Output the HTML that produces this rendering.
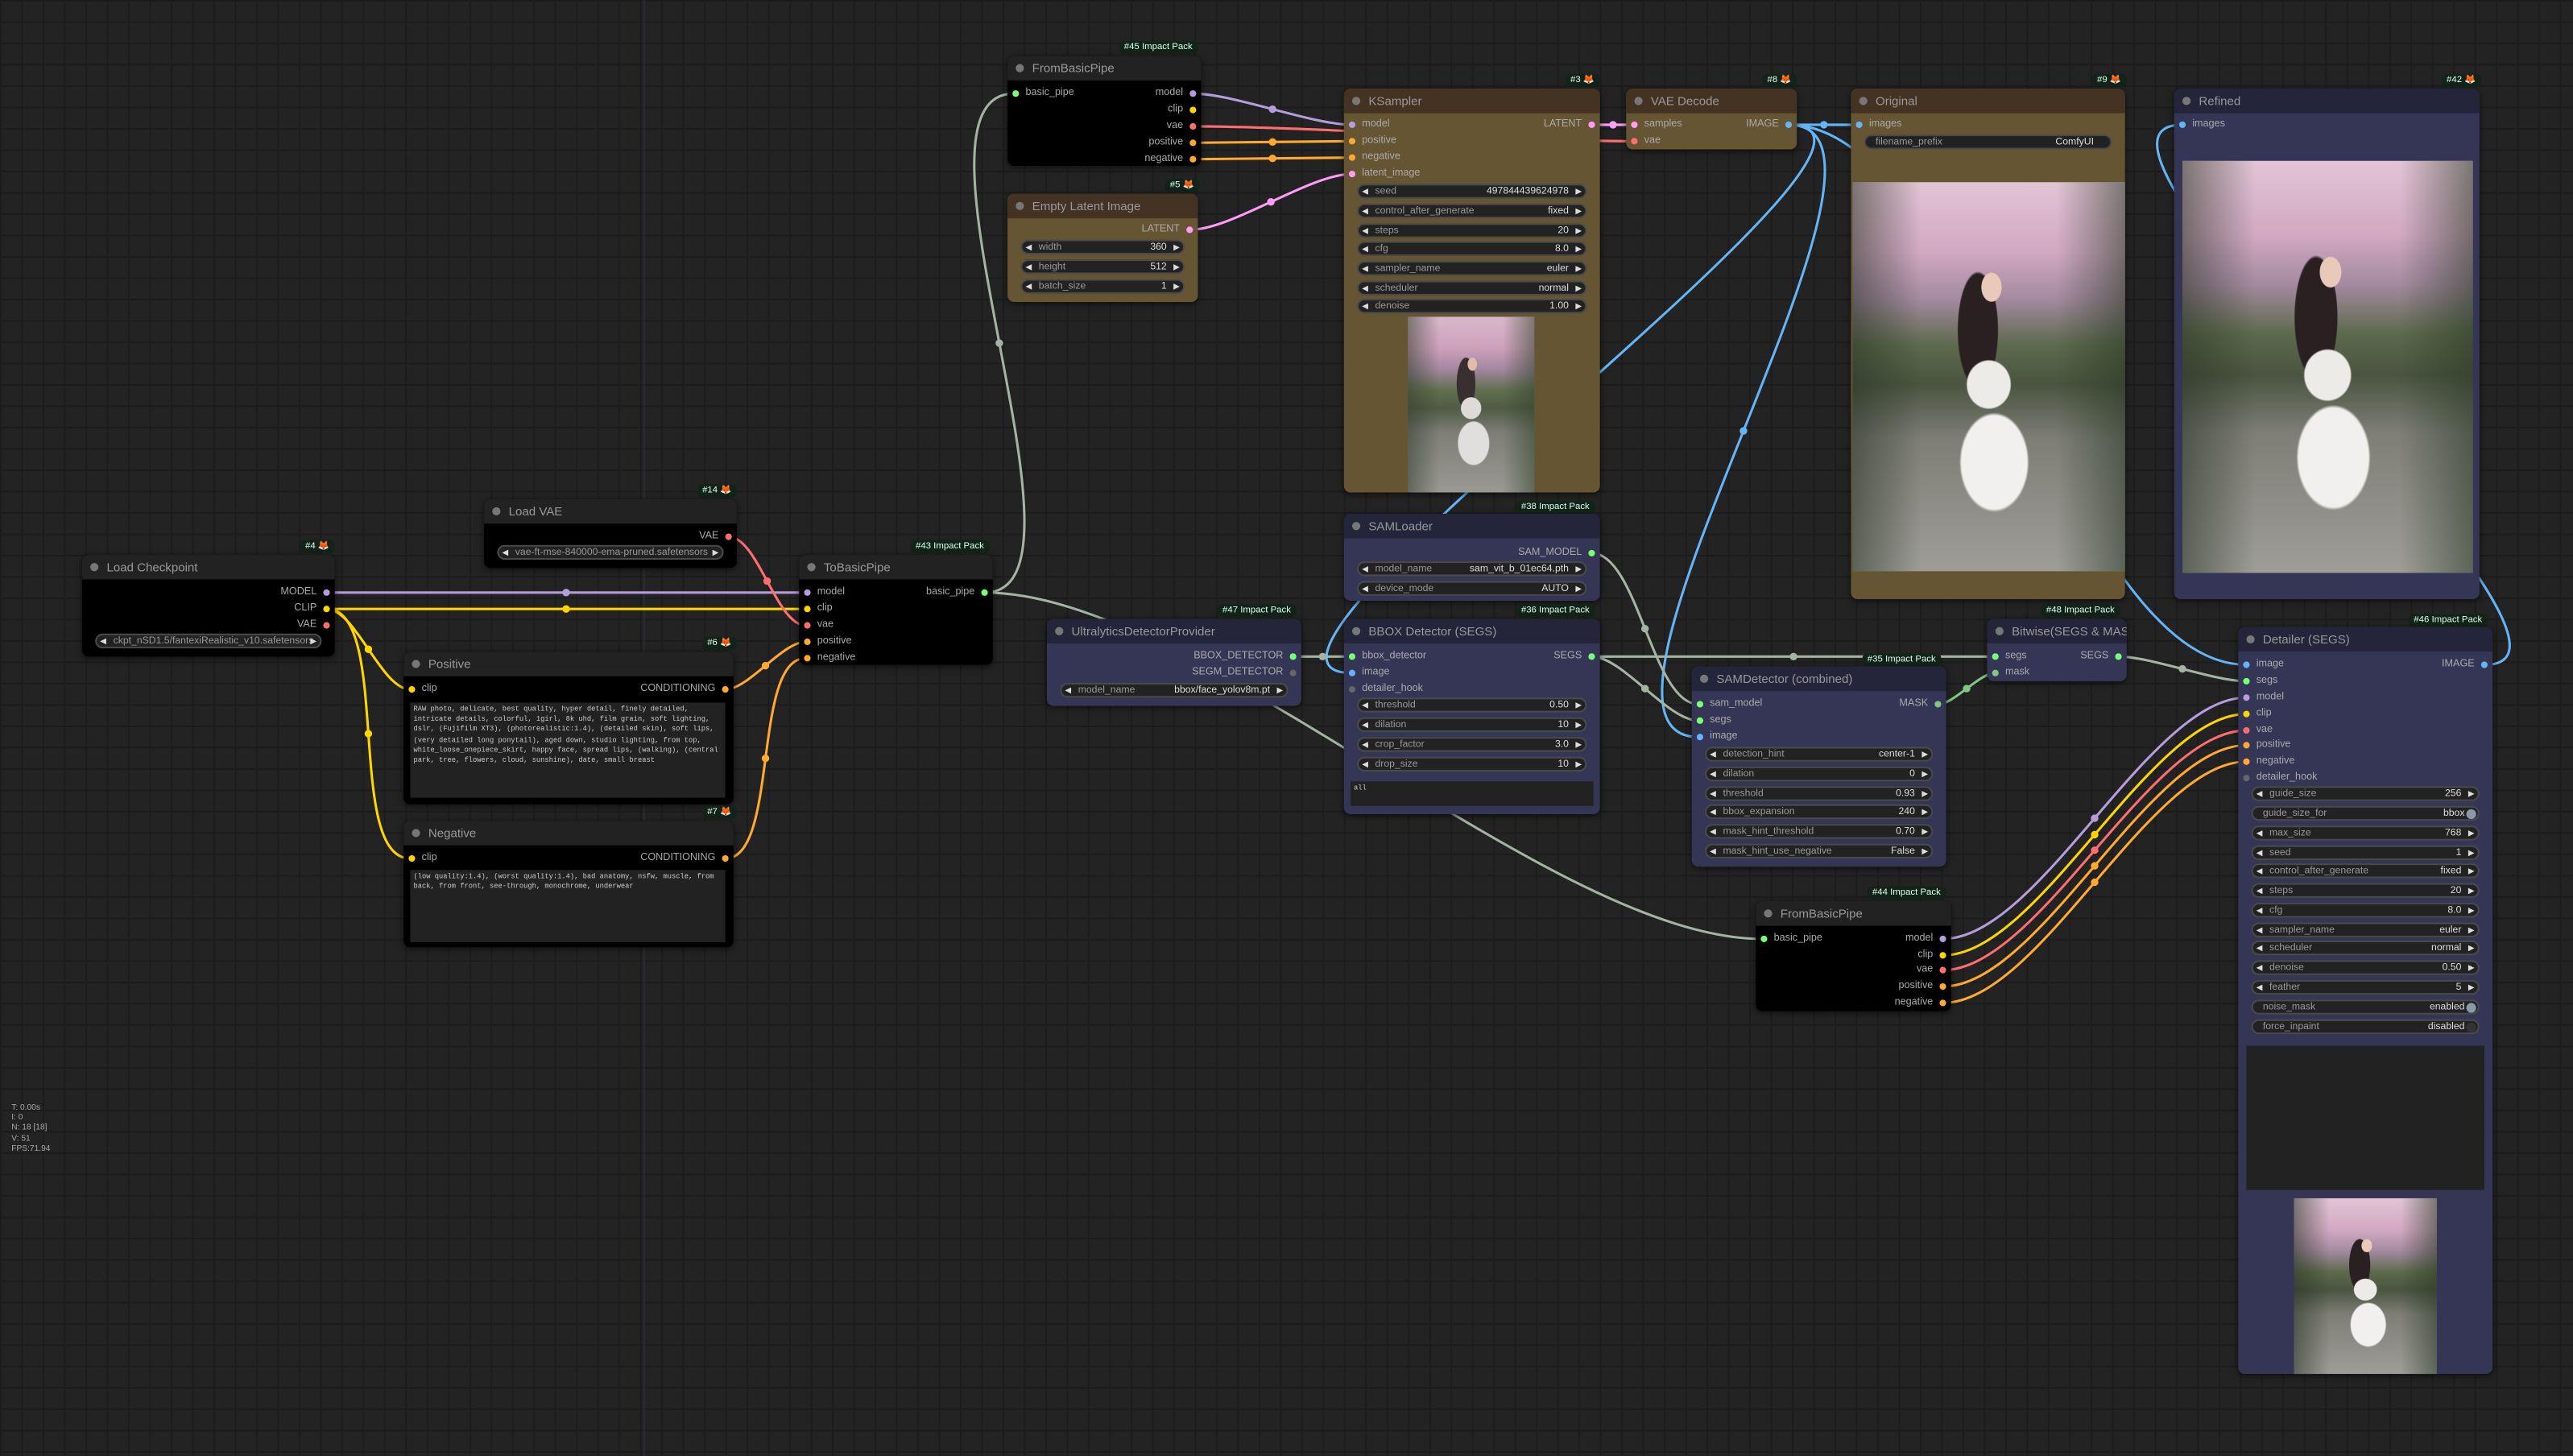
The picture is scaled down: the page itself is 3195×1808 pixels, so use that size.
<!DOCTYPE html>
<html><head><meta charset="utf-8">
<style>
html,body{margin:0;padding:0;background:#222;}
body{width:3195px;height:1808px;overflow:hidden;position:relative;}
#s{position:absolute;left:0;top:0;width:1568px;height:887px;transform:scale(2.0376,2.0383);transform-origin:0 0;
background-color:#232323;
background-image:linear-gradient(#1c1c1c 1px,transparent 1px),linear-gradient(90deg,#1c1c1c 1px,transparent 1px);
background-size:13px 13px;font-family:"Liberation Sans",sans-serif;}
svg{position:absolute;left:0;top:0}
.n{position:absolute;border-radius:4px;box-shadow:0 1px 4px rgba(0,0,0,.6);}
.t{height:15px;line-height:15px;font-size:7.4px;color:#999;padding-left:15px;border-radius:4px 4px 0 0;position:relative;white-space:nowrap;overflow:hidden}
.t:before{content:"";position:absolute;left:5px;top:5px;width:5px;height:5px;border-radius:50%;background:#777}
.K{background:#000}.K .t{background:#222}
.B{background:#353556}.B .t{background:#24243a}
.Y{background:#665533}.Y .t{background:#443322}
.r{position:absolute;left:0;right:0;height:8px;line-height:8px;font-size:6.2px;color:#aaa;margin-top:1px}
.r .l{position:absolute;left:11px}.r .o{position:absolute;right:11px}
.r i{position:absolute;top:2px;width:4px;height:4px;border-radius:50%}
.r .l i{left:-8px}.r .o i{right:-8px}
.w{position:absolute;left:8px;right:8px;height:9px;background:#222;border:1px solid #4a4a4a;border-radius:5px;font-size:6px;line-height:8px;color:#999;box-sizing:border-box;white-space:nowrap;overflow:hidden;margin-top:1px}
.w .k{position:absolute;left:10px}.w .v{position:absolute;right:10px;color:#ddd}
.w b{position:absolute;left:2px;font-size:5px;color:#ddd;font-weight:normal}
.w b.rt{left:auto;right:2px}
.w.tg .k{left:6px}.w.tg .v{right:8px}
.w.tg:after{content:"";position:absolute;right:1px;top:1px;width:6px;height:6px;border-radius:50%;background:#8899aa}
.w.tg.off:after{background:#333}
.w.tx:after{display:none}
.bd{position:absolute;height:8px;line-height:8px;font-size:5.6px;color:#dfe;background:#12241a;padding:0 3px;border-radius:3px;white-space:nowrap}
.ta{position:absolute;background:#222;font-family:"Liberation Mono",monospace;font-size:4.3px;line-height:6.2px;color:#ccc;padding:2px;box-sizing:border-box;overflow:hidden}
.ph{position:absolute;background:
radial-gradient(ellipse 20% 20% at 52% 72%,#f2f0ee 60%,transparent 64%),
radial-gradient(ellipse 13% 10% at 50% 52%,#ecebe8 60%,transparent 64%),
radial-gradient(ellipse 6% 6% at 51% 27%,#e9c9b8 60%,transparent 64%),
radial-gradient(ellipse 12% 24% at 46% 38%,#2a2022 60%,transparent 63%),
linear-gradient(90deg,rgba(40,50,35,.55) 0%,transparent 25%,transparent 75%,rgba(40,55,35,.55) 100%),
linear-gradient(#e2c4d4 0%,#d1a9c2 18%,#a48aa0 30%,#5c6a4c 42%,#4a5440 52%,#7e7e76 66%,#9e9d98 100%);}
.st{position:absolute;left:7px;top:672px;font-size:5px;line-height:6.2px;color:#aaa}
</style></head><body>
<div id="s">
<div style="position:absolute;left:392px;top:0;width:1px;height:887px;background:#2a2d33"></div>
<svg id="lk" width="1568" height="887"></svg>

<div class="bd" style="left:183px;top:329px">#4 🦊</div>
<div class="n K" style="left:50px;top:338px;width:154px;height:62px"><div class="t">Load Checkpoint</div>
<div class="r" style="top:18px"><span class="o">MODEL<i style="background:#b39ddb"></i></span></div>
<div class="r" style="top:28px"><span class="o">CLIP<i style="background:#ffd500"></i></span></div>
<div class="r" style="top:38px"><span class="o">VAE<i style="background:#ff6e6e"></i></span></div>
<div class="w" style="top:47px"><b>◀</b><span class="k">ckpt_nSD1.5/fantexiRealistic_v10.safetensors</span><b class="rt">▶</b></div>
</div>

<div class="bd" style="left:425px;top:295px">#14 🦊</div>
<div class="n K" style="left:295px;top:304px;width:154px;height:42px"><div class="t">Load VAE</div>
<div class="r" style="top:18px"><span class="o">VAE<i style="background:#ff6e6e"></i></span></div>
<div class="w" style="top:27px"><b>◀</b><span class="k">vae-ft-mse-840000-ema-pruned.safetensors</span><b class="rt">▶</b></div>
</div>

<div class="bd" style="left:428px;top:388px">#6 🦊</div>
<div class="n K" style="left:246px;top:397px;width:201px;height:93px"><div class="t">Positive</div>
<div class="r" style="top:18px"><span class="l"><i style="background:#ffd500"></i>clip</span><span class="o">CONDITIONING<i style="background:#ffa931"></i></span></div>
<div class="ta" style="left:4px;top:31px;width:192px;height:58px">RAW photo, delicate, best quality, hyper detail, finely detailed, intricate details, colorful, 1girl, 8k uhd, film grain, soft lighting, dslr, (Fujifilm XT3), (photorealistic:1.4), (detailed skin), soft lips, (very detailed long ponytail), aged down, studio lighting, from top, white_loose_onepiece_skirt, happy face, spread lips, (walking), (central park, tree, flowers, cloud, sunshine), date, small breast</div>
</div>

<div class="bd" style="left:428px;top:491px">#7 🦊</div>
<div class="n K" style="left:246px;top:500px;width:201px;height:77px"><div class="t">Negative</div>
<div class="r" style="top:18px"><span class="l"><i style="background:#ffd500"></i>clip</span><span class="o">CONDITIONING<i style="background:#ffa931"></i></span></div>
<div class="ta" style="left:4px;top:30px;width:192px;height:44px">(low quality:1.4), (worst quality:1.4), bad anatomy, nsfw, muscle, from back, from front, see-through, monochrome, underwear</div>
</div>

<div class="bd" style="left:555px;top:329px">#43 Impact Pack</div>
<div class="n K" style="left:487px;top:338px;width:118px;height:67px"><div class="t">ToBasicPipe</div>
<div class="r" style="top:18px"><span class="l"><i style="background:#b39ddb"></i>model</span><span class="o">basic_pipe<i style="background:#7f7"></i></span></div>
<div class="r" style="top:28px"><span class="l"><i style="background:#ffd500"></i>clip</span></div>
<div class="r" style="top:38px"><span class="l"><i style="background:#ff6e6e"></i>vae</span></div>
<div class="r" style="top:48px"><span class="l"><i style="background:#ffa931"></i>positive</span></div>
<div class="r" style="top:58px"><span class="l"><i style="background:#ffa931"></i>negative</span></div>
</div>

<div class="bd" style="left:682px;top:25px">#45 Impact Pack</div>
<div class="n K" style="left:614px;top:34px;width:118px;height:67px"><div class="t">FromBasicPipe</div>
<div class="r" style="top:18px"><span class="l"><i style="background:#7f7"></i>basic_pipe</span><span class="o">model<i style="background:#b39ddb"></i></span></div>
<div class="r" style="top:28px"><span class="o">clip<i style="background:#ffd500"></i></span></div>
<div class="r" style="top:38px"><span class="o">vae<i style="background:#ff6e6e"></i></span></div>
<div class="r" style="top:48px"><span class="o">positive<i style="background:#ffa931"></i></span></div>
<div class="r" style="top:58px"><span class="o">negative<i style="background:#ffa931"></i></span></div>
</div>

<div class="bd" style="left:710px;top:109px">#5 🦊</div>
<div class="n Y" style="left:614px;top:118px;width:116px;height:66px"><div class="t">Empty Latent Image</div>
<div class="r" style="top:17px"><span class="o">LATENT<i style="background:#ff9cf9"></i></span></div>
<div class="w" style="top:27px"><b>◀</b><span class="k">width</span><span class="v">360</span><b class="rt">▶</b></div>
<div class="w" style="top:39px"><b>◀</b><span class="k">height</span><span class="v">512</span><b class="rt">▶</b></div>
<div class="w" style="top:51px"><b>◀</b><span class="k">batch_size</span><span class="v">1</span><b class="rt">▶</b></div>
</div>

<div class="bd" style="left:954px;top:45px">#3 🦊</div>
<div class="n Y" style="left:819px;top:54px;width:156px;height:246px"><div class="t">KSampler</div>
<div class="r" style="top:17px"><span class="l"><i style="background:#b39ddb"></i>model</span><span class="o">LATENT<i style="background:#ff9cf9"></i></span></div>
<div class="r" style="top:27px"><span class="l"><i style="background:#ffa931"></i>positive</span></div>
<div class="r" style="top:37px"><span class="l"><i style="background:#ffa931"></i>negative</span></div>
<div class="r" style="top:47px"><span class="l"><i style="background:#ff9cf9"></i>latent_image</span></div>
<div class="w" style="top:57px"><b>◀</b><span class="k">seed</span><span class="v">497844439624978</span><b class="rt">▶</b></div>
<div class="w" style="top:69px"><b>◀</b><span class="k">control_after_generate</span><span class="v">fixed</span><b class="rt">▶</b></div>
<div class="w" style="top:81px"><b>◀</b><span class="k">steps</span><span class="v">20</span><b class="rt">▶</b></div>
<div class="w" style="top:92px"><b>◀</b><span class="k">cfg</span><span class="v">8.0</span><b class="rt">▶</b></div>
<div class="w" style="top:104px"><b>◀</b><span class="k">sampler_name</span><span class="v">euler</span><b class="rt">▶</b></div>
<div class="w" style="top:116px"><b>◀</b><span class="k">scheduler</span><span class="v">normal</span><b class="rt">▶</b></div>
<div class="w" style="top:127px"><b>◀</b><span class="k">denoise</span><span class="v">1.00</span><b class="rt">▶</b></div>
<div class="ph" style="left:39px;top:139px;width:77px;height:107px;filter:saturate(1.3) contrast(0.85)"></div>
</div>

<div class="bd" style="left:1074px;top:45px">#8 🦊</div>
<div class="n Y" style="left:991px;top:54px;width:104px;height:37px"><div class="t">VAE Decode</div>
<div class="r" style="top:17px"><span class="l"><i style="background:#ff9cf9"></i>samples</span><span class="o">IMAGE<i style="background:#64b5f6"></i></span></div>
<div class="r" style="top:27px"><span class="l"><i style="background:#ff6e6e"></i>vae</span></div>
</div>

<div class="bd" style="left:1275px;top:45px">#9 🦊</div>
<div class="n Y" style="left:1128px;top:54px;width:167px;height:311px"><div class="t">Original</div>
<div class="r" style="top:17px"><span class="l"><i style="background:#64b5f6"></i>images</span></div>
<div class="w tg tx" style="top:27px"><span class="k">filename_prefix</span><span class="v" style="right:10px">ComfyUI</span></div>
<div class="ph" style="left:1px;top:57px;width:166px;height:237px"></div>
</div>

<div class="bd" style="left:1488px;top:45px">#42 🦊</div>
<div class="n B" style="left:1325px;top:54px;width:186px;height:311px"><div class="t">Refined</div>
<div class="r" style="top:17px"><span class="l"><i style="background:#64b5f6"></i>images</span></div>
<div class="ph" style="left:5px;top:44px;width:177px;height:251px"></div>
</div>

<div class="bd" style="left:924px;top:305px">#38 Impact Pack</div>
<div class="n B" style="left:819px;top:313px;width:156px;height:53px"><div class="t">SAMLoader</div>
<div class="r" style="top:19px"><span class="o">SAM_MODEL<i style="background:#7f7"></i></span></div>
<div class="w" style="top:28px"><b>◀</b><span class="k">model_name</span><span class="v">sam_vit_b_01ec64.pth</span><b class="rt">▶</b></div>
<div class="w" style="top:40px"><b>◀</b><span class="k">device_mode</span><span class="v">AUTO</span><b class="rt">▶</b></div>
</div>

<div class="bd" style="left:742px;top:368px">#47 Impact Pack</div>
<div class="n B" style="left:638px;top:377px;width:155px;height:53px"><div class="t">UltralyticsDetectorProvider</div>
<div class="r" style="top:18px"><span class="o">BBOX_DETECTOR<i style="background:#7f7"></i></span></div>
<div class="r" style="top:28px"><span class="o">SEGM_DETECTOR<i style="background:#666"></i></span></div>
<div class="w" style="top:38px"><b>◀</b><span class="k">model_name</span><span class="v">bbox/face_yolov8m.pt</span><b class="rt">▶</b></div>
</div>

<div class="bd" style="left:924px;top:368px">#36 Impact Pack</div>
<div class="n B" style="left:819px;top:377px;width:156px;height:119px"><div class="t">BBOX Detector (SEGS)</div>
<div class="r" style="top:18px"><span class="l"><i style="background:#7f7"></i>bbox_detector</span><span class="o">SEGS<i style="background:#7f7"></i></span></div>
<div class="r" style="top:28px"><span class="l"><i style="background:#64b5f6"></i>image</span></div>
<div class="r" style="top:38px"><span class="l"><i style="background:#666"></i>detailer_hook</span></div>
<div class="w" style="top:47px"><b>◀</b><span class="k">threshold</span><span class="v">0.50</span><b class="rt">▶</b></div>
<div class="w" style="top:59px"><b>◀</b><span class="k">dilation</span><span class="v">10</span><b class="rt">▶</b></div>
<div class="w" style="top:71px"><b>◀</b><span class="k">crop_factor</span><span class="v">3.0</span><b class="rt">▶</b></div>
<div class="w" style="top:83px"><b>◀</b><span class="k">drop_size</span><span class="v">10</span><b class="rt">▶</b></div>
<div class="ta" style="left:4px;top:99px;width:148px;height:15px">all</div>
</div>

<div class="bd" style="left:1135px;top:398px">#35 Impact Pack</div>
<div class="n B" style="left:1031px;top:406px;width:155px;height:122px"><div class="t">SAMDetector (combined)</div>
<div class="r" style="top:18px"><span class="l"><i style="background:#7f7"></i>sam_model</span><span class="o">MASK<i style="background:#81c784"></i></span></div>
<div class="r" style="top:28px"><span class="l"><i style="background:#7f7"></i>segs</span></div>
<div class="r" style="top:38px"><span class="l"><i style="background:#64b5f6"></i>image</span></div>
<div class="w" style="top:48px"><b>◀</b><span class="k">detection_hint</span><span class="v">center-1</span><b class="rt">▶</b></div>
<div class="w" style="top:60px"><b>◀</b><span class="k">dilation</span><span class="v">0</span><b class="rt">▶</b></div>
<div class="w" style="top:72px"><b>◀</b><span class="k">threshold</span><span class="v">0.93</span><b class="rt">▶</b></div>
<div class="w" style="top:83px"><b>◀</b><span class="k">bbox_expansion</span><span class="v">240</span><b class="rt">▶</b></div>
<div class="w" style="top:95px"><b>◀</b><span class="k">mask_hint_threshold</span><span class="v">0.70</span><b class="rt">▶</b></div>
<div class="w" style="top:107px"><b>◀</b><span class="k">mask_hint_use_negative</span><span class="v">False</span><b class="rt">▶</b></div>
</div>

<div class="bd" style="left:1244px;top:368px">#48 Impact Pack</div>
<div class="n B" style="left:1211px;top:377px;width:85px;height:38px"><div class="t">Bitwise(SEGS &amp; MASK)</div>
<div class="r" style="top:18px"><span class="l"><i style="background:#7f7"></i>segs</span><span class="o">SEGS<i style="background:#7f7"></i></span></div>
<div class="r" style="top:28px"><span class="l"><i style="background:#81c784"></i>mask</span></div>
</div>

<div class="bd" style="left:1468px;top:374px">#46 Impact Pack</div>
<div class="n B" style="left:1364px;top:382px;width:155px;height:455px"><div class="t">Detailer (SEGS)</div>
<div class="r" style="top:18px"><span class="l"><i style="background:#64b5f6"></i>image</span><span class="o">IMAGE<i style="background:#64b5f6"></i></span></div>
<div class="r" style="top:28px"><span class="l"><i style="background:#7f7"></i>segs</span></div>
<div class="r" style="top:38px"><span class="l"><i style="background:#b39ddb"></i>model</span></div>
<div class="r" style="top:48px"><span class="l"><i style="background:#ffd500"></i>clip</span></div>
<div class="r" style="top:58px"><span class="l"><i style="background:#ff6e6e"></i>vae</span></div>
<div class="r" style="top:67px"><span class="l"><i style="background:#ffa931"></i>positive</span></div>
<div class="r" style="top:77px"><span class="l"><i style="background:#ffa931"></i>negative</span></div>
<div class="r" style="top:87px"><span class="l"><i style="background:#666"></i>detailer_hook</span></div>
<div class="w" style="top:96px"><b>◀</b><span class="k">guide_size</span><span class="v">256</span><b class="rt">▶</b></div>
<div class="w tg" style="top:108px"><span class="k">guide_size_for</span><span class="v">bbox</span></div>
<div class="w" style="top:120px"><b>◀</b><span class="k">max_size</span><span class="v">768</span><b class="rt">▶</b></div>
<div class="w" style="top:132px"><b>◀</b><span class="k">seed</span><span class="v">1</span><b class="rt">▶</b></div>
<div class="w" style="top:143px"><b>◀</b><span class="k">control_after_generate</span><span class="v">fixed</span><b class="rt">▶</b></div>
<div class="w" style="top:155px"><b>◀</b><span class="k">steps</span><span class="v">20</span><b class="rt">▶</b></div>
<div class="w" style="top:167px"><b>◀</b><span class="k">cfg</span><span class="v">8.0</span><b class="rt">▶</b></div>
<div class="w" style="top:179px"><b>◀</b><span class="k">sampler_name</span><span class="v">euler</span><b class="rt">▶</b></div>
<div class="w" style="top:190px"><b>◀</b><span class="k">scheduler</span><span class="v">normal</span><b class="rt">▶</b></div>
<div class="w" style="top:202px"><b>◀</b><span class="k">denoise</span><span class="v">0.50</span><b class="rt">▶</b></div>
<div class="w" style="top:214px"><b>◀</b><span class="k">feather</span><span class="v">5</span><b class="rt">▶</b></div>
<div class="w tg" style="top:226px"><span class="k">noise_mask</span><span class="v">enabled</span></div>
<div class="w tg off" style="top:238px"><span class="k">force_inpaint</span><span class="v">disabled</span></div>
<div style="position:absolute;left:5px;top:255px;width:145px;height:88px;background:#222"></div>
<div class="ph" style="left:34px;top:348px;width:87px;height:107px"></div>
</div>

<div class="bd" style="left:1138px;top:540px">#44 Impact Pack</div>
<div class="n K" style="left:1070px;top:549px;width:119px;height:67px"><div class="t">FromBasicPipe</div>
<div class="r" style="top:18px"><span class="l"><i style="background:#7f7"></i>basic_pipe</span><span class="o">model<i style="background:#b39ddb"></i></span></div>
<div class="r" style="top:28px"><span class="o">clip<i style="background:#ffd500"></i></span></div>
<div class="r" style="top:37px"><span class="o">vae<i style="background:#ff6e6e"></i></span></div>
<div class="r" style="top:47px"><span class="o">positive<i style="background:#ffa931"></i></span></div>
<div class="r" style="top:57px"><span class="o">negative<i style="background:#ffa931"></i></span></div>
</div>

<div class="st">T: 0.00s<br>I: 0<br>N: 18 [18]<br>V: 51<br>FPS:71.94</div>
</div>
<script>
var M='#b39ddb',C='#ffd500',V='#ff6e6e',N='#ffa931',L='#ff9cf9',I='#64b5f6',P='#a3b4a2',K='#81c784';
var links=[[199,360,491,360,M],[199,370,491,370,C],[199,370,250,419,C],[199,370,250,522,C],
[444,326,491,380,V],[442,419,491,390,N],[442,522,491,400,N],[600,360,618,56,P],[600,360,1074,571,P],
[727,56,824,75,M],[727,76,996,85,V],[727,86,824,85,N],[727,96,824,95,N],[725,139,824,105,L],
[970,75,996,75,L],[1090,75,1133,75,I],[1090,75,824,409,I],[1090,75,1035,448,I],[1090,75,1369,404,I],
[1514,404,1330,75,I],[788,399,824,399,P],[970,336,1035,428,P],[970,399,1035,438,P],[970,399,1216,399,P],
[1181,428,1216,409,K],[1291,399,1369,414,P],
[1184,571,1369,424,M],[1184,581,1369,434,C],[1184,590,1369,444,V],[1184,600,1369,453,N],[1184,610,1369,463,N]];
var s='';
links.forEach(function(a){var x1=a[0],y1=a[1]+1,x2=a[2],y2=a[3]+1,c=a[4];
var d=Math.hypot(x2-x1,y2-y1)*0.25;var cx1=x1+d,cx2=x2-d;
var mx=0.125*x1+0.375*cx1+0.375*cx2+0.125*x2,my=0.5*y1+0.5*y2;
s+='<path d="M'+x1+' '+y1+' C'+cx1+' '+y1+' '+cx2+' '+y2+' '+x2+' '+y2+'" stroke="'+c+'" stroke-width="1.5" fill="none"/>';
s+='<circle cx="'+mx+'" cy="'+my+'" r="2.3" fill="'+c+'"/>';});
document.getElementById('lk').innerHTML=s;
</script>
</body></html>
